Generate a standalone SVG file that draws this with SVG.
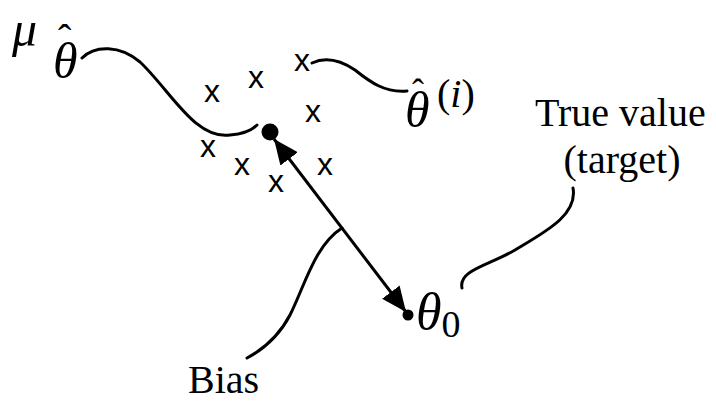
<svg xmlns="http://www.w3.org/2000/svg" width="716" height="403" viewBox="0 0 716 403">
<style>
.c{fill:none;stroke:#000;stroke-width:3;stroke-linecap:round}
.x{font-family:"Liberation Sans",Arial,sans-serif;font-size:32px;text-anchor:middle;fill:#000}
.m{font-family:"Liberation Serif","Times New Roman",serif;font-style:italic;fill:#000}
.r{font-family:"Liberation Serif","Times New Roman",serif;fill:#000}
.t{font-family:"Liberation Serif","Times New Roman",serif;font-size:40px;fill:#000}
</style>
<defs>
<marker id="ah" markerUnits="userSpaceOnUse" markerWidth="26" markerHeight="22" refX="25" refY="11" orient="auto-start-reverse">
<path d="M0,0 L25,11 L0,22 z" fill="#000"/>
</marker>
</defs>
<rect width="716" height="403" fill="#fff"/>
<g id="connectors">
<path class="c" d="M82,58 C95,45 120,45 140,62 C170,90 195,140 230,135 C243,134 252,130 257,125"/>
<path class="c" d="M312,63 C325,57 340,60 355,70 C370,82 385,93 407,91"/>
<path class="c" d="M573,188 C578,215 545,232 515,250 C490,265 458,270 462,288"/>
<path class="c" d="M342,228 C315,245 305,285 290,315 C278,338 262,350 247,358"/>
<line x1="274" y1="139" x2="406" y2="312" stroke="#000" stroke-width="3" marker-start="url(#ah)" marker-end="url(#ah)"/>
</g>
<g id="mu-label">
<text class="m" x="12" y="46" font-size="50">μ</text>
<text class="m" font-size="50"><tspan x="58" y="52" font-style="normal" font-size="40">ˆ</tspan><tspan x="53" y="78">θ</tspan></text>
</g>
<g id="mean-point">
<circle cx="270" cy="132" r="8.5" fill="#000"/>
</g>
<g id="samples">
<text class="x" x="212" y="102">x</text>
<text class="x" x="256" y="88">x</text>
<text class="x" x="302" y="71">x</text>
<text class="x" x="313" y="122">x</text>
<text class="x" x="208" y="157">x</text>
<text class="x" x="242" y="175">x</text>
<text class="x" x="276" y="192">x</text>
<text class="x" x="325" y="175">x</text>
</g>
<g id="sample-label">
<text class="m" font-size="50"><tspan x="412" y="104" font-style="normal" font-size="36">ˆ</tspan><tspan x="405" y="127">θ</tspan><tspan x="437" y="107" font-style="normal" font-size="40">(</tspan><tspan font-size="40">i</tspan><tspan font-style="normal" font-size="40">)</tspan></text>
</g>
<g id="true-value">
<circle cx="408" cy="315" r="5.5" fill="#000"/>
<text class="m" x="416" y="329" font-size="52">θ<tspan font-style="normal" font-size="38" dy="8">0</tspan></text>
</g>
<g id="target-label">
<text class="t" x="535" y="126">True value</text>
<text class="t" x="622" y="173" text-anchor="middle">(target)</text>
</g>
<g id="bias-label">
<text class="t" x="188" y="393">Bias</text>
</g>
</svg>
